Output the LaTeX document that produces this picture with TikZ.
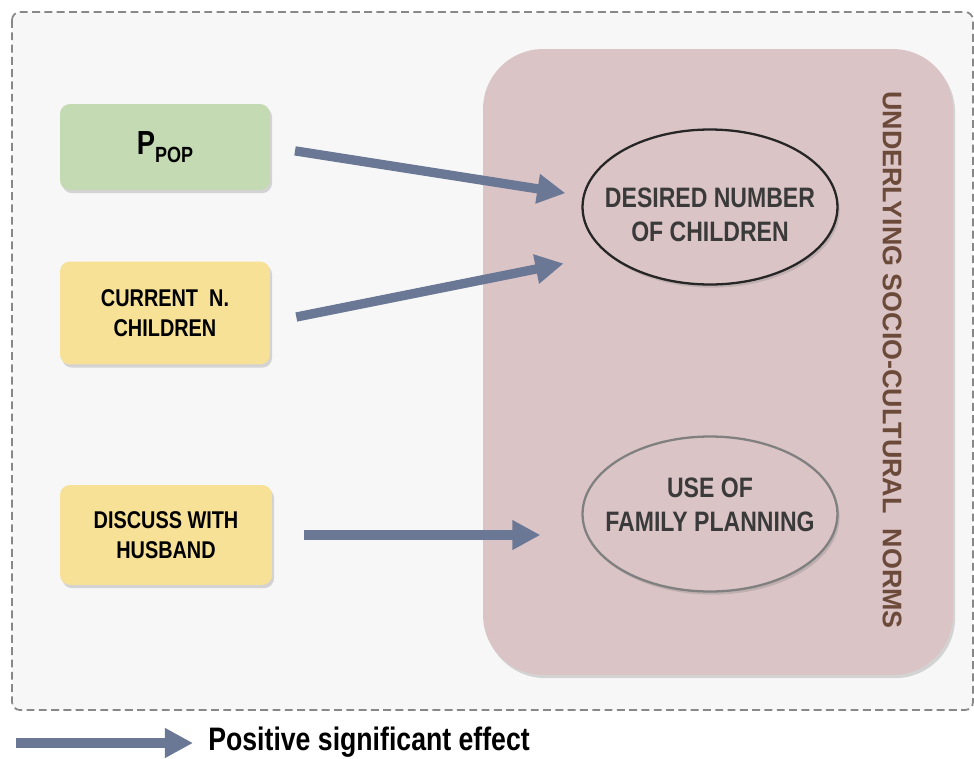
\documentclass[tikz,border=0pt]{standalone}
\usepackage{fontspec}
\setmainfont{Liberation Sans}[FakeStretch=0.82]
\newfontfamily\widefont{Liberation Sans}
\usetikzlibrary{shapes,arrows.meta,shadows}

\definecolor{framegray}{HTML}{888888}
\definecolor{bggray}{HTML}{F7F7F7}
\definecolor{normpink}{HTML}{DBC4C6}
\definecolor{ppopgreen}{HTML}{C3DAB2}
\definecolor{varyellow}{HTML}{F6E196}
\definecolor{arrowblue}{HTML}{6A7896}
\definecolor{normbrown}{HTML}{6B4A3A}
\definecolor{outtext}{HTML}{3A3A3A}

\begin{document}
\begin{tikzpicture}[x=0.02cm, y=-0.02cm,
    softshadow/.style={drop shadow={shadow xshift=1.2pt, shadow yshift=-1.8pt, opacity=0.3}},
    varbox/.style={rounded corners=0.2cm, minimum width=4.2cm, align=center, softshadow,
      font=\fontsize{13.8}{17}\selectfont\bfseries},
    outcome/.style={ellipse, draw=#1, line width=1.3pt, fill=normpink, minimum width=5.1cm,
      minimum height=3.1cm, inner sep=0pt, softshadow},
    outlabel/.style={align=center, text=outtext, inner sep=0pt,
      font=\fontsize{16}{19.3}\selectfont\bfseries},
    effect/.style={draw=arrowblue, line width=5.3pt, -{Triangle[length=16pt, width=16pt]}}]
    \useasboundingbox (0,0) rectangle (974,758);

    \draw [framegray, fill=bggray, line width=1pt, dash pattern=on 4.5pt off 2.5pt, rounded corners=0.16cm] (12,12) rectangle (973,710);
    \node [fill=normpink, rounded corners=1.2cm, minimum width=9.4cm, minimum height=12.52cm, softshadow] (context) at (718,362) {};

    \node [varbox, fill=ppopgreen, minimum height=1.72cm] (ppop) at (165,147) {{\fontsize{19}{22}\selectfont P}\raisebox{-4.5pt}{\fontsize{12.5}{14}\selectfont POP}};
    \node [varbox, fill=varyellow, minimum height=2.06cm] (current) at (165,313) {CURRENT\ \ N.\\CHILDREN};
    \node [varbox, fill=varyellow, minimum width=4.24cm, minimum height=2cm] (discuss) at (166,535) {DISCUSS WITH\\HUSBAND};

    \node [outcome=black!85, label={[outlabel, yshift=-4.5pt]center:DESIRED NUMBER\\OF CHILDREN}] (desired) at (710,207) {};
    \node [outcome=black!50, label={[outlabel, yshift=5pt]center:USE OF\\FAMILY PLANNING}] (fp) at (710,514) {};

    \node [rotate=-90, text=normbrown, font=\widefont\bfseries\fontsize{15.3}{17}\selectfont] (normslabel) at (892,360) {UNDERLYING SOCIO-CULTURAL\ \ NORMS};

    \draw [effect, shorten <=0.5cm, shorten >=0.35cm] (ppop.east) -- (desired.175);
    \draw [effect, shorten <=0.53cm, shorten >=0.9cm] (current.-5) -- (desired.205);
    \draw [effect, shorten <=0.64cm, shorten >=0.82cm] (discuss.east) -- (discuss.east -| fp.west);

    \coordinate (legstart) at (16,743);
    \coordinate (legend) at (193,743);
    \draw [effect] (legstart) -- (legend);
    \node [anchor=west, inner sep=0pt, font=\fontsize{18.5}{20}\selectfont\bfseries] (legendtext) at (208,742) {Positive significant effect};
  \end{tikzpicture}
\end{document}
